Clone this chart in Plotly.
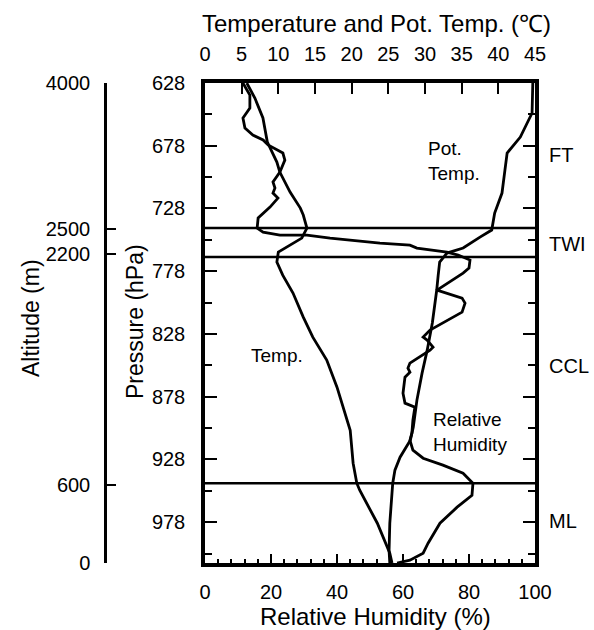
import plotly.graph_objects as go

# ---------------- data ----------------
temp_p = [628.0, 640.0, 655.9, 675.0, 691.0, 699.0, 714.9, 727.7, 733.2, 743.6, 751.6, 757.2,
          762.7, 770.7, 781.1, 795.4, 814.6, 830.5, 848.8, 870.4, 886.3, 904.7, 931.0, 946.9,
          952.5, 978.8, 1002.7, 1010.5]
temp_c = [5.7, 6.8, 7.9, 8.5, 9.8, 10.2, 11.6, 13.0, 13.4, 13.9, 13.2, 11.6,
          10.0, 9.8, 10.6, 12.0, 13.4, 14.7, 16.6, 18.0, 18.8, 19.8, 20.2, 20.7,
          21.1, 23.5, 25.2, 25.5]

pot_p = [628.0, 651.9, 671.1, 683.8, 697.4, 715.7, 731.6, 745.2, 750.8, 759.5, 763.5, 770.7,
         781.1, 793.0, 819.3, 840.9, 859.2, 880.7, 902.3, 912.6, 926.2, 936.5, 946.9, 978.8,
         1000.3, 1010.5]
pot_c = [44.7, 44.6, 43.0, 41.2, 40.9, 40.5, 39.5, 39.1, 37.5, 35.2, 33.0, 32.0,
         31.8, 31.6, 31.0, 30.3, 29.6, 28.9, 28.4, 28.0, 26.6, 25.9, 25.6, 25.2,
         25.1, 25.2]

rh_p = [628.0, 637.6, 647.9, 655.9, 663.9, 669.5, 673.4, 677.4, 683.8, 689.4, 699.0, 706.9,
        711.7, 715.7, 719.7, 726.9, 735.6, 743.6, 746.8, 749.2, 749.2, 751.6, 755.6, 757.2,
        759.5, 762.7, 765.1, 766.7, 769.1, 775.5, 779.5, 793.0, 799.4, 803.4, 810.6, 824.9,
        830.5, 832.9, 835.3, 838.5, 840.9, 851.2, 855.2, 858.4, 862.4, 875.2, 883.1, 886.3,
        896.7, 907.0, 912.6, 920.6, 927.0, 932.5, 938.9, 946.9, 956.5, 966.0, 978.8, 994.7,
        1002.7, 1008.3, 1010.5]
rh_pct = [11.5, 13.6, 13.6, 11.5, 12.1, 14.5, 17.6, 19.1, 23.6, 24.2, 22.7, 20.6,
          21.2, 20.6, 22.1, 19.7, 16.1, 15.8, 17.6, 22.7, 30.9, 37.9, 53.0, 62.1,
          64.2, 73.3, 76.7, 78.2, 80.3, 80.0, 78.2, 70.3, 77.9, 78.8, 77.9, 68.2,
          66.1, 67.3, 68.2, 69.1, 68.2, 62.1, 61.5, 62.1, 60.6, 60.0, 60.6, 63.6,
          63.0, 62.7, 62.1, 63.0, 66.1, 72.1, 78.2, 81.2, 80.9, 76.4, 71.2, 67.6,
          66.1, 62.1, 58.2]

layer_boundaries_p = [743.6, 766.7, 946.9]

layer_labels = ["FT", "TWI", "CCL", "ML"]
layer_label_p = [685.5, 756.4, 853.6, 977.2]

altitude_labels = ["4000", "2500", "2200", "600", "0"]
altitude_p = [628.0, 744.4, 764.3, 948.5, 1010.5]

pressure_ticks = [628, 678, 728, 778, 828, 878, 928, 978]
rh_ticks = [0, 20, 40, 60, 80, 100]
temp_ticks = [0, 5, 10, 15, 20, 25, 30, 35, 40, 45]

# ---------------- figure ----------------
W, H = 594, 630
ML_, MR_, MT_, MB_ = 20, 59, 83, 67
plot_w = W - ML_ - MR_
xdom0 = (205 - ML_) / plot_w
alt_pos = (105 - ML_) / plot_w


def px_x(px):
    return (px - ML_) / plot_w


def px_y(py):
    return (H - MB_ - py) / (H - MT_ - MB_)


FONT = "Liberation Sans, Arial, sans-serif"
LW = 2.8
TICK_FS = 20
TITLE_FS_H = 24
TITLE_FS_V = 23
ANN_FS = 19

fig = go.Figure()
fig.add_trace(go.Scatter(x=rh_pct, y=rh_p, mode="lines", line=dict(color="black", width=LW),
                         xaxis="x", yaxis="y", showlegend=False, name="Relative Humidity"))
fig.add_trace(go.Scatter(x=temp_c, y=temp_p, mode="lines", line=dict(color="black", width=LW),
                         xaxis="x2", yaxis="y", showlegend=False, name="Temp."))
fig.add_trace(go.Scatter(x=pot_c, y=pot_p, mode="lines", line=dict(color="black", width=LW),
                         xaxis="x2", yaxis="y", showlegend=False, name="Pot. Temp."))
# invisible trace to carry the altitude axis
fig.add_trace(go.Scatter(x=[None] * len(altitude_p), y=altitude_p, mode="markers",
                         marker=dict(opacity=0), xaxis="x", yaxis="y3",
                         showlegend=False, hoverinfo="skip"))

for p in layer_boundaries_p:
    fig.add_shape(type="line", xref="x domain", yref="y", x0=0, x1=1, y0=p, y1=p,
                  line=dict(color="black", width=2.5))

prange = [1010.5, 628]

fig.update_layout(
    width=W, height=H,
    margin=dict(l=ML_, r=MR_, t=MT_, b=MB_),
    paper_bgcolor="white", plot_bgcolor="white",
    font=dict(family=FONT, color="black", size=TICK_FS),
    showlegend=False,
    xaxis=dict(domain=[xdom0, 1], range=[0, 100], showgrid=False, zeroline=False,
               showline=True, linecolor="black", linewidth=3.5, mirror=False,
               ticks="inside", ticklen=9, tickwidth=2, tickcolor="black",
               tickvals=rh_ticks, ticklabelstandoff=8,
               minor=dict(dtick=4, tick0=0, ticks="inside", ticklen=4, tickwidth=2,
                          tickcolor="black", showgrid=False),
               tickfont=dict(size=TICK_FS), automargin=False),
    xaxis2=dict(overlaying="x", side="top", anchor="y", range=[0, 45], showgrid=False,
                zeroline=False, showline=True, linecolor="black", linewidth=3.5,
                ticks="inside", ticklen=11, tickwidth=2, tickcolor="black",
                tickvals=temp_ticks, ticklabelstandoff=10,
                tickfont=dict(size=TICK_FS), automargin=False),
    yaxis=dict(range=prange, showgrid=False, zeroline=False, showline=True,
               linecolor="black", linewidth=3.5, mirror="ticks",
               ticks="inside", ticklen=12, tickwidth=2, tickcolor="black",
               tickvals=pressure_ticks, ticklabelstandoff=12,
               minor=dict(tickvals=[p + 25 for p in pressure_ticks[:-1]] + [1003],
                          ticks="inside", ticklen=7, tickwidth=2, tickcolor="black",
                          showgrid=False),
               tickfont=dict(size=TICK_FS), automargin=False),
    yaxis3=dict(overlaying="y", anchor="free", position=alt_pos, side="left",
                range=prange, showgrid=False, zeroline=False, showline=True,
                linecolor="black", linewidth=2.5, ticks="inside", ticklen=9, tickwidth=2,
                tickcolor="black", tickvals=altitude_p, ticktext=altitude_labels,
                ticklabelstandoff=10, tickfont=dict(size=TICK_FS), automargin=False),
)

ann = [
    dict(text="Temperature and Pot. Temp. (℃)", x=px_x(376), y=px_y(23), size=TITLE_FS_H),
    dict(text="Relative Humidity (%)", x=px_x(375), y=px_y(616), size=TITLE_FS_H),
    dict(text="Pressure (hPa)", x=px_x(135), y=px_y(322), size=TITLE_FS_V, angle=-90),
    dict(text="Altitude (m)", x=px_x(31), y=px_y(318), size=TITLE_FS_V, angle=-90),
]
for a in ann:
    fig.add_annotation(text=a["text"], x=a["x"], y=a["y"], xref="paper", yref="paper",
                       showarrow=False, textangle=a.get("angle", 0),
                       font=dict(size=a["size"], family=FONT, color="black"),
                       xanchor="center", yanchor="middle")

fig.add_annotation(text="Pot.<br>Temp.", x=67, y=690.5, xref="x", yref="y", showarrow=False,
                   xanchor="left", yanchor="middle", align="left",
                   font=dict(size=ANN_FS, family=FONT, color="black"))
fig.add_annotation(text="Temp.", x=21.8, y=845, xref="x", yref="y", showarrow=False,
                   xanchor="center", yanchor="middle",
                   font=dict(size=ANN_FS, family=FONT, color="black"))
fig.add_annotation(text="Relative<br>Humidity", x=68.5, y=906, xref="x", yref="y",
                   showarrow=False, xanchor="left", yanchor="middle", align="left",
                   font=dict(size=ANN_FS, family=FONT, color="black"))
for lab, p in zip(layer_labels, layer_label_p):
    fig.add_annotation(text=lab, x=px_x(547), y=p, xref="paper", yref="y", showarrow=False,
                       xanchor="left", yanchor="middle",
                       font=dict(size=TICK_FS, family=FONT, color="black"))

fig.write_html("out.html")
